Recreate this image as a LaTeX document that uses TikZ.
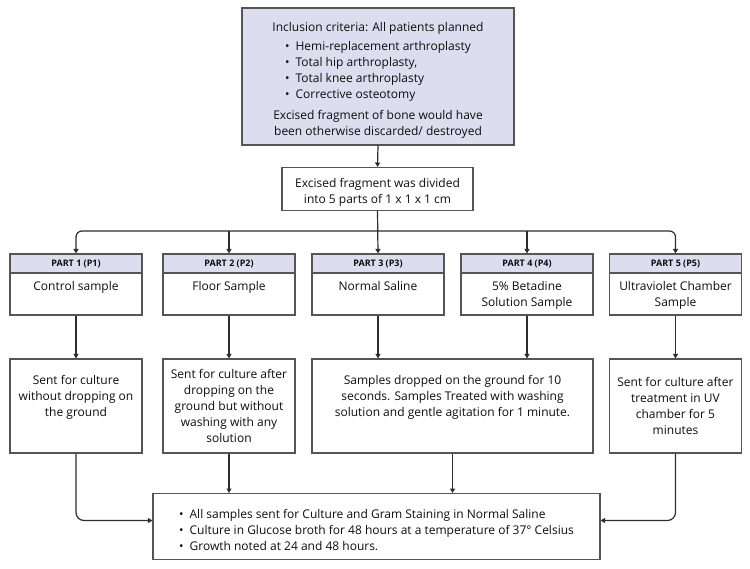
\documentclass[tikz,border=0pt]{standalone}
\usepackage{fontspec}
\setmainfont{Open Sans}
\usetikzlibrary{arrows.meta}
\usetikzlibrary{positioning}
\definecolor{lavender}{RGB}{221,221,240}
\definecolor{boxline}{RGB}{85,85,85}
\definecolor{conline}{RGB}{45,45,45}

\begin{document}
\begin{tikzpicture}[x=1pt,y=-1pt,
  box/.style={draw=boxline,line width=1.1pt,rectangle,inner sep=4pt,align=center,text=black!95,font=\fontsize{12}{16}\selectfont},
  criteriabox/.style={box,fill=lavender,minimum width=272pt,minimum height=137pt},
  parthead/.style={box,fill=lavender,minimum width=132pt,minimum height=19pt,inner sep=0pt,font=\fontsize{9}{11}\selectfont\bfseries},
  partbody/.style={box,minimum width=132pt,minimum height=42pt,inner sep=4pt},
  stepbox/.style={box,minimum width=132pt,minimum height=94pt},
  arrow/.style={draw=conline,line width=1.2pt,-{Triangle[length=4.5pt,width=5pt]}}
]
\useasboundingbox (0,0) rectangle (750,569);

\node[criteriabox] (criteria) at (378,76.5) {\rule{0pt}{17pt}Inclusion criteria: All patients planned\\[4pt]
\begin{tabular}{@{}l@{}}
\textbullet\enspace Hemi-replacement arthroplasty\\
\textbullet\enspace Total hip arthroplasty,\\
\textbullet\enspace Total knee arthroplasty\\
\textbullet\enspace Corrective osteotomy
\end{tabular}\\[6pt]
Excised fragment of bone would have\\been otherwise discarded/ destroyed};

\node[box,minimum width=191pt,minimum height=42pt] (excised) at (377.5,189) {\rule{0pt}{16pt}Excised fragment was divided\\into 5 parts of 1 x 1 x 1 cm};
\coordinate (bus) at (378,231);

\node[parthead] (h1) at (76,263.5) {PART 1 (P1)};
\node[parthead] (h2) at (229,263.5) {PART 2 (P2)};
\node[parthead] (h3) at (378,263.5) {PART 3 (P3)};
\node[parthead] (h4) at (527,263.5) {PART 4 (P4)};
\node[parthead] (h5) at (675.5,263.5) {PART 5 (P5)};

\node[partbody] (b1) at (76,294) {\parbox[c][34pt][t]{124pt}{\centering\rule{0pt}{14pt}Control sample}};
\node[partbody] (b2) at (229,294) {\parbox[c][34pt][t]{124pt}{\centering\rule{0pt}{14pt}Floor Sample}};
\node[partbody] (b3) at (378,294) {\parbox[c][34pt][t]{124pt}{\centering\rule{0pt}{14pt}Normal Saline}};
\node[partbody] (b4) at (527,294) {\parbox[c][34pt][t]{124pt}{\centering\rule{0pt}{14pt}5\% Betadine\\Solution Sample}};
\node[partbody] (b5) at (675.5,294) {\parbox[c][34pt][t]{124pt}{\centering\rule{0pt}{14pt}Ultraviolet Chamber\\Sample}};

\node[stepbox] (s1) at (76,406) {Sent for culture\\without dropping on\\the ground\\\strut};
\node[stepbox] (s2) at (229,406) {Sent for culture after\\dropping on the\\ground but without\\washing with any\\solution};
\node[stepbox,minimum width=281pt] (s34) at (452.5,406) {Samples dropped on the ground for 10\\seconds. Samples Treated with washing\\solution and gentle agitation for 1 minute.\\\strut};
\node[stepbox] (s5) at (675.5,406) {Sent for culture after\\treatment in UV\\chamber for 5\\minutes};

\node[box,minimum width=447pt,minimum height=61pt] (final) at (376.5,526.5) {\begin{tabular}{@{}l@{}}
\rule{0pt}{21pt}\textbullet\enspace All samples sent for Culture and Gram Staining in Normal Saline\\
\textbullet\enspace Culture in Glucose broth for 48 hours at a temperature of 37° Celsius\\
\textbullet\enspace Growth noted at 24 and 48 hours.
\end{tabular}};

\draw[arrow] (criteria.south) -- (excised.north);
\draw[arrow] (excised.south) -- (h3.north);
\draw[arrow,rounded corners=6pt] (bus) -| (h1.north);
\draw[arrow,rounded corners=6pt] (bus) -| (h5.north);
\draw[arrow] (h2.north |- bus) -- (h2.north);
\draw[arrow] (h4.north |- bus) -- (h4.north);

\draw[arrow] (b1.south) -- (s1.north);
\draw[arrow] (b2.south) -- (s2.north);
\draw[arrow] (b3.south) -- (b3.south |- s34.north);
\draw[arrow] (b4.south) -- (b4.south |- s34.north);
\draw[arrow] (b5.south) -- (s5.north);

\draw[arrow,rounded corners=8pt] (s1.south) |- ([yshift=6pt]final.west);
\draw[arrow] (s2.south) -- (s2.south |- final.north);
\draw[arrow] (s34.south) -- (s34.south |- final.north);
\draw[arrow,rounded corners=8pt] (s5.south) |- ([yshift=6pt]final.east);

\end{tikzpicture}
\end{document}
